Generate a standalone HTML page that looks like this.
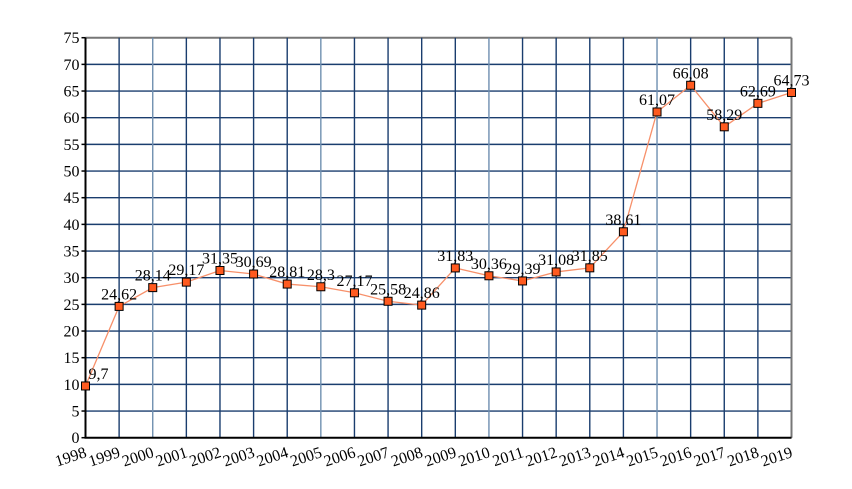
<!DOCTYPE html>
<html><head><meta charset="utf-8"><style>
html,body{margin:0;padding:0;background:#fff}
svg{display:block}
text{font-family:"Liberation Serif",serif;fill:#000}
</style></head><body>
<svg width="852" height="489" id="svg">
<g id="grid"></g>
<g id="axes"></g>
<g id="series"></g>
</svg>
<script>
const years=["1998","1999","2000","2001","2002","2003","2004","2005","2006","2007","2008","2009","2010","2011","2012","2013","2014","2015","2016","2017","2018","2019"];
const values=[9.7,24.62,28.14,29.17,31.35,30.69,28.81,28.3,27.17,25.58,24.86,31.83,30.36,29.39,31.08,31.85,38.61,61.07,66.08,58.29,62.69,64.73];
const labels=["9,7","24,62","28,14","29,17","31,35","30,69","28,81","28,3","27,17","25,58","24,86","31,83","30,36","29,39","31,08","31,85","38,61","61,07","66,08","58,29","62,69","64,73"];
const yTicks=[0,5,10,15,20,25,30,35,40,45,50,55,60,65,70,75];
const L=85.5,R=791.5,T=37.7,B=437.7,YMAX=75;
const NS="http://www.w3.org/2000/svg";
function X(i){return L+(R-L)*i/(years.length-1);}
function Y(v){return B-(B-T)*v/YMAX;}
function mk(tag,attrs,parent){const e=document.createElementNS(NS,tag);for(const k in attrs)e.setAttribute(k,attrs[k]);parent.appendChild(e);return e;}
const grid=document.getElementById('grid'),axes=document.getElementById('axes'),series=document.getElementById('series');
yTicks.forEach(v=>{
  const l=mk('line',{x1:L,x2:R,y1:Y(v),y2:Y(v),stroke:v==YMAX?'#777':'#1a3d6e','stroke-width':v==YMAX?2:1.4},grid);
  
  
  const t=mk('text',{x:L-6,y:Y(v)+5.5,'text-anchor':'end','font-size':16},axes);
  t.textContent=v;
  
  
  const tk=mk('line',{x1:L-4,x2:L,y1:Y(v),y2:Y(v),stroke:'#000','stroke-width':1.5},axes);
  
  
});
years.forEach((yr,i)=>{
  const last=i==years.length-1;
  const l=mk('line',{x1:X(i),x2:X(i),y1:T,y2:B,stroke:last?'#777':(i%5==2?'#6f8fb0':'#1a3d6e'),'stroke-width':last?2:1.4},grid);
  
  
  const t=mk('text',{x:0,y:0,'text-anchor':'end','font-size':16,transform:`translate(${X(i)+2},${B+19}) rotate(-18)`},axes);
  t.textContent=yr;
  
  
});
const ax=mk('path',{d:`M${L},${T} V${B} H${R}`,fill:'none',stroke:'#000','stroke-width':2},axes);


const pl=mk('polyline',{points:values.map((v,i)=>X(i)+','+Y(v)).join(' '),fill:'none',stroke:'#f7906a','stroke-width':1.3},series);


values.forEach((v,i)=>{
  const r=mk('rect',{x:X(i)-4,y:Y(v)-4,width:8,height:8,fill:'#ff5a1f',stroke:'#000','stroke-width':1},series);
  
  
  const t=mk('text',{x:i==0?X(i)+13:X(i),y:Y(v)-7,'text-anchor':'middle','font-size':16},series);
  t.textContent=labels[i];
  
  
});
</script>
</body></html>
